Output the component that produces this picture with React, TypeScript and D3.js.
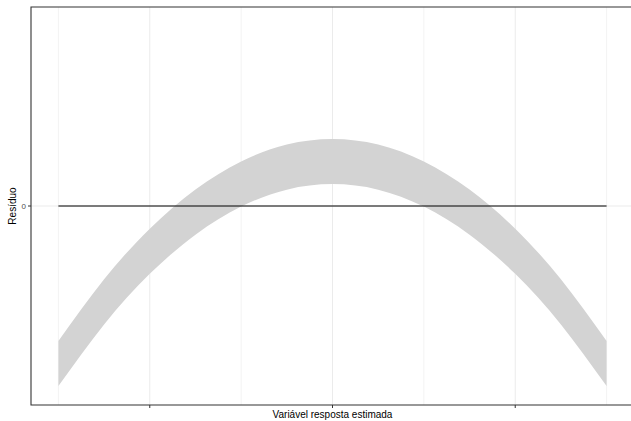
import React from 'react';
import * as d3 from 'd3';

// valores (faixa dos resíduos em função da resposta estimada)
const fittedX = [-3, -2.5, -2, -1.5, -1, -0.5, 0, 0.5, 1, 1.5, 2, 2.5, 3];
const upperBand = [-0.678, -0.368, -0.114, 0.083, 0.224, 0.309, 0.337, 0.309, 0.224, 0.083, -0.114, -0.368, -0.678];
const lowerBand = [-0.905, -0.595, -0.341, -0.144, -0.003, 0.082, 0.11, 0.082, -0.003, -0.144, -0.341, -0.595, -0.905];

const xMajorBreaks = [-2, 0, 2];
const xMinorBreaks = [-3, -1, 1, 3];
const yBreaks = [0];
const yTickLabels = ['0'];

const W = 631;
const H = 421;
const panel = { left: 31, top: 7, right: 634, bottom: 405 };

const App = () => {
  const x = d3.scaleLinear().domain([-3.3, 3.3]).range([panel.left, panel.right]);
  const y = d3.scaleLinear().domain([-1, 1]).range([panel.bottom, panel.top]);

  const rows = fittedX.map((v, i) => ({ x: v, lo: lowerBand[i], hi: upperBand[i] }));

  const band = d3.area<any>()
    .x(d => x(d.x))
    .y0(d => y(d.lo))
    .y1(d => y(d.hi))
    .curve(d3.curveNatural);

  const x0 = d3.min(fittedX) as number;
  const x1 = d3.max(fittedX) as number;

  return (
    <svg width={W} height={H} style={{ position: 'absolute', left: 0, top: 0, background: '#fff' }}
      fontFamily="'Liberation Sans', Arial, sans-serif">
      {/* grade */}
      {xMinorBreaks.map(b => (
        <line key={'mi' + b} x1={x(b)} x2={x(b)} y1={panel.top} y2={panel.bottom} stroke="#f3f3f3" strokeWidth={1} />
      ))}
      {xMajorBreaks.map(b => (
        <line key={'ma' + b} x1={x(b)} x2={x(b)} y1={panel.top} y2={panel.bottom} stroke="#ebebeb" strokeWidth={1} />
      ))}
      {yBreaks.map(b => (
        <line key={'y' + b} x1={panel.left} x2={W} y1={y(b)} y2={y(b)} stroke="#ebebeb" strokeWidth={1} />
      ))}

      <path d={band(rows) || ''} fill="#d3d3d3" />

      <line x1={x(x0)} x2={x(x1)} y1={y(0)} y2={y(0)} stroke="#000" strokeWidth={1} />

      {/* borda do painel */}
      <path d={`M${W},${panel.top}H${panel.left}V${panel.bottom}H${W}`} fill="none" stroke="#333" strokeWidth={1.1} />

      {/* eixos */}
      {xMajorBreaks.map(b => (
        <line key={'xt' + b} x1={x(b)} x2={x(b)} y1={panel.bottom} y2={panel.bottom + 3} stroke="#333" strokeWidth={1} />
      ))}
      {yBreaks.map((b, i) => (
        <g key={'yt' + b}>
          <line x1={panel.left - 3} x2={panel.left} y1={y(b)} y2={y(b)} stroke="#333" strokeWidth={1} />
          <text x={panel.left - 5} y={y(b)} dy="0.35em" textAnchor="end" fontSize={8} fill="#4d4d4d">{yTickLabels[i]}</text>
        </g>
      ))}

      <text x={(panel.left + panel.right) / 2} y={418} textAnchor="middle" fontSize={10} fill="#000">Variável resposta estimada</text>
      <text transform={`translate(16, ${y(0)}) rotate(-90)`} textAnchor="middle" fontSize={10} fill="#000">Resíduo</text>
    </svg>
  );
};

export default App;
